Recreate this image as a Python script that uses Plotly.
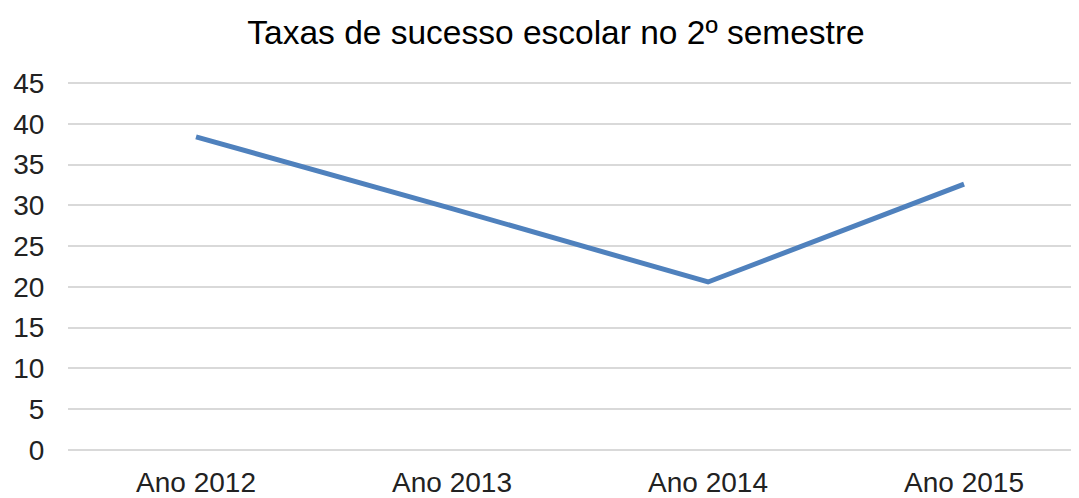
import plotly.graph_objects as go

categories = ["Ano 2012", "Ano 2013", "Ano 2014", "Ano 2015"]
values = [38.4, 29.6, 20.6, 32.6]
y_ticks = [0, 5, 10, 15, 20, 25, 30, 35, 40, 45]

fig = go.Figure()
fig.add_trace(go.Scatter(
    x=list(range(len(categories))), y=values, mode="lines",
    line=dict(color="#4F81BD", width=5),
    hoverinfo="skip", showlegend=False,
))

# page body has an 8px margin, so the figure is sized to fit the window
fig.update_layout(
    width=1071, height=490,
    margin=dict(l=60, r=0, t=71, b=44),
    paper_bgcolor="white", plot_bgcolor="white",
    font=dict(family="Liberation Sans, Arial, sans-serif", color="#222222"),
    title=dict(text="Taxas de sucesso escolar no 2º semestre",
               x=0.5117, xanchor="center", y=0.951, yanchor="middle",
               font=dict(size=33.5, color="black")),
)
fig.update_xaxes(
    range=[-0.5, 3.449], tickmode="array",
    tickvals=list(range(len(categories))), ticktext=categories,
    showgrid=False, zeroline=False, showline=False,
    tickfont=dict(size=28, color="#222222"), ticks="outside", ticklen=3,
    tickcolor="rgba(0,0,0,0)",
)
fig.update_yaxes(
    range=[-0.5, 45.5], tickvals=y_ticks,
    showgrid=True, gridcolor="#D9D9D9", gridwidth=2,
    zeroline=False, showline=False,
    tickfont=dict(size=28, color="#222222"), ticks="outside", ticklen=17,
    tickcolor="rgba(0,0,0,0)",
)

fig.write_html("out.html")
